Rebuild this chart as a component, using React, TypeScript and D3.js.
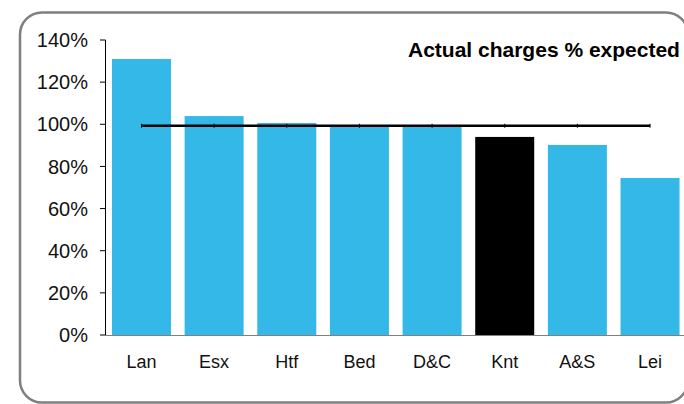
import React from "react";
import * as d3 from "d3";

const categories = ["Lan", "Esx", "Htf", "Bed", "D&C", "Knt", "A&S", "Lei"];
const actualPct = [131, 103.9, 100.6, 99.5, 99.4, 94, 90.2, 74.5];
const expectedPct = [99.3, 99.3, 99.3, 99.3, 99.3, 99.3, 99.3, 99.3];
const highlighted = ["Knt"];
const yTicks = [0, 20, 40, 60, 80, 100, 120, 140];
const title = "Actual charges % expected";

const W = 684;
const H = 404;
const FONT = "'Liberation Sans', Arial, Helvetica, sans-serif";

export default function App() {
  const x = d3
    .scaleBand<string>()
    .domain(categories)
    .range([105, 686.5])
    .paddingInner(0.188)
    .paddingOuter(0.096);
  const y = d3.scaleLinear().domain([0, 140]).range([335, 40]);

  const line = d3
    .line<number>()
    .x((_, i) => (x(categories[i]) as number) + x.bandwidth() / 2)
    .y((d) => y(d));

  return (
    <svg
      width={W}
      height={H}
      style={{ position: "absolute", left: 0, top: 0, display: "block" }}
      fontFamily={FONT}
    >
      <rect x={0} y={0} width={W} height={H} fill="#ffffff" />
      <rect
        x={20}
        y={12.5}
        width={668}
        height={390}
        rx={22}
        ry={22}
        fill="none"
        stroke="#7f7f7f"
        strokeWidth={2.5}
      />
      {actualPct.map((v, i) => {
        const c = categories[i];
        return (
          <rect
            key={c}
            x={x(c)}
            y={y(v)}
            width={x.bandwidth()}
            height={y(0) - y(v)}
            fill={highlighted.includes(c) ? "#000000" : "#33b8e8"}
          />
        );
      })}
      {/* y axis */}
      <line x1={105.5} x2={105.5} y1={40} y2={335} stroke="#000" strokeWidth={1} />
      {yTicks.map((t) => (
        <g key={t}>
          <line x1={100} x2={105.5} y1={y(t)} y2={y(t)} stroke="#000" strokeWidth={1} />
          <text
            x={88}
            y={y(t)}
            dy="0.36em"
            textAnchor="end"
            fontSize={20}
            fill="#111"
          >
            {t}%
          </text>
        </g>
      ))}
      {/* x axis */}
      <line x1={105} x2={686.5} y1={335.5} y2={335.5} stroke="#808080" strokeWidth={1.2} />
      {categories.map((c) => (
        <text
          key={c}
          x={(x(c) as number) + x.bandwidth() / 2}
          y={368}
          textAnchor="middle"
          fontSize={18}
          fill="#111"
        >
          {c}
        </text>
      ))}
      {/* expected line */}
      <path d={line(expectedPct) || ""} fill="none" stroke="#000" strokeWidth={2.5} />
      {expectedPct.map((v, i) => {
        const cx = (x(categories[i]) as number) + x.bandwidth() / 2;
        return (
          <line
            key={i}
            x1={cx}
            x2={cx}
            y1={y(v) - 2}
            y2={y(v) + 2}
            stroke="#000"
            strokeWidth={1}
          />
        );
      })}
      <text x={408} y={57} fontSize={21} fontWeight="bold" fill="#000">
        {title}
      </text>
    </svg>
  );
}
